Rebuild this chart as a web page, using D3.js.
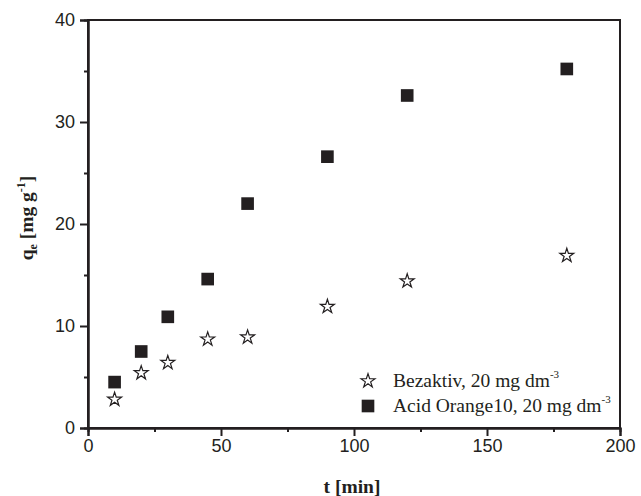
<!DOCTYPE html>
<html><head><meta charset="utf-8">
<script src="https://cdn.jsdelivr.net/npm/d3@7"></script>
<style>body{margin:0;background:#fff}</style>
</head><body>
<svg id="c" width="641" height="496"></svg>
<script>
const times = [10, 20, 30, 45, 60, 90, 120, 180];
const bezaktiv = [2.9, 5.5, 6.5, 8.8, 9.0, 12.0, 14.5, 17.0];
const acidOrange = [4.5, 7.5, 10.9, 14.6, 22.0, 26.6, 32.6, 35.2];
const xTicks = [0, 50, 100, 150, 200];
const yTicks = [0, 10, 20, 30, 40];
const xMinor = [25, 75, 125, 175];
const yMinor = [5, 15, 25, 35];
const seriesNames = ["Bezaktiv, 20 mg dm", "Acid Orange10, 20 mg dm"];

const SANS = "'Liberation Sans', Arial, sans-serif";
const SERIF = "'Liberation Serif', 'Times New Roman', serif";

const svg = d3.select("#c");
const L = 88, R = 620, T = 20, B = 428;
const x = d3.scaleLinear().domain([0, 200]).range([L, R]);
const y = d3.scaleLinear().domain([0, 40]).range([B, T]);
const ink = "#231f20";

svg.append("rect").attr("x", L).attr("y", T).attr("width", R - L).attr("height", B - T)
  .attr("fill", "none").attr("stroke", ink).attr("stroke-width", 2);

const xa = svg.append("g").attr("transform", `translate(0,${B})`)
  .call(d3.axisBottom(x).tickValues(xTicks).tickSize(8).tickPadding(3).tickFormat(d3.format("d")));
const xm = svg.append("g").attr("transform", `translate(0,${B})`)
  .call(d3.axisBottom(x).tickValues(xMinor).tickSize(4).tickFormat(""));
const ya = svg.append("g").attr("transform", `translate(${L},0)`)
  .call(d3.axisLeft(y).tickValues(yTicks).tickSize(8).tickPadding(5).tickFormat(d3.format("d")));
const ym = svg.append("g").attr("transform", `translate(${L},0)`)
  .call(d3.axisLeft(y).tickValues(yMinor).tickSize(4).tickFormat(""));
[xa, xm, ya, ym].forEach(g => {
  g.select(".domain").attr("stroke", ink).attr("stroke-width", 2);
  g.selectAll(".tick line").attr("stroke", ink).attr("stroke-width", 2);
  g.selectAll("text").attr("font-family", SANS).attr("font-size", 18).attr("fill", ink);
});

svg.append("text").attr("x", (L + R) / 2 - 2).attr("y", 493).attr("text-anchor", "middle")
  .attr("font-family", SERIF).attr("font-weight", "bold")
  .attr("font-size", 19.5).attr("fill", ink).text("t [min]");
const yt = svg.append("text").attr("transform", `translate(33,${(T + B) / 2 - 6}) rotate(-90)`)
  .attr("text-anchor", "middle")
  .attr("font-family", SERIF).attr("font-weight", "bold")
  .attr("font-size", 19.5).attr("fill", ink);
yt.append("tspan").text("q");
yt.append("tspan").attr("font-size", 12).attr("dy", 4).text("e");
yt.append("tspan").attr("dy", -4).text(" [mg g");
yt.append("tspan").attr("font-size", 12).attr("dy", -8).text("-1");
yt.append("tspan").attr("dy", 8).text("]");

const star = d3.symbol().type(d3.symbolStar).size(60);
const sq = d3.symbol().type(d3.symbolSquare).size(160);

svg.append("g").selectAll("path").data(times.map((t, i) => [t, acidOrange[i]])).join("path")
  .attr("d", sq).attr("transform", d => `translate(${x(d[0])},${y(d[1])})`)
  .attr("fill", ink);
svg.append("g").selectAll("path").data(times.map((t, i) => [t, bezaktiv[i]])).join("path")
  .attr("d", star).attr("transform", d => `translate(${x(d[0])},${y(d[1]) + 1})`)
  .attr("fill", "#fff").attr("stroke", ink).attr("stroke-width", 1.2);

const lg = svg.append("g");
const items = [{sym: star, fill: "#fff", stroke: ink, name: seriesNames[0]},
               {sym: sq, fill: ink, stroke: "none", name: seriesNames[1]}];
items.forEach((it, i) => {
  const yy = 381 + i * 25;
  lg.append("path").attr("d", it.sym).attr("transform", `translate(368,${yy})`)
    .attr("fill", it.fill).attr("stroke", it.stroke).attr("stroke-width", 1.2);
  const t = lg.append("text").attr("x", 393).attr("y", yy + 6)
    .attr("font-family", SERIF).attr("font-size", 19.5).attr("fill", ink);
  t.append("tspan").text(it.name);
  t.append("tspan").attr("font-size", 11).attr("dy", -9).text("-3");
});
</script>
</body></html>
